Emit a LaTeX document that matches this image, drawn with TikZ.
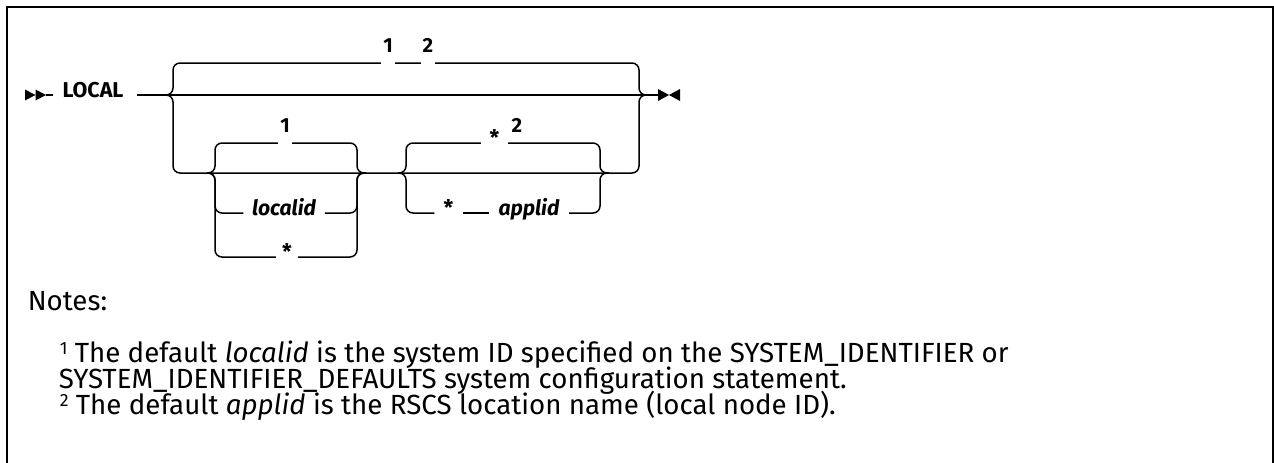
\documentclass[tikz,border=0pt]{standalone}
\usepackage{fontspec}
\setmainfont{Fira Sans}
\newlength\rrfitlen
\newcommand\rrfit[3]{%
  \settowidth\rrfitlen{\fontsize{10}{12}\selectfont #3}%
  \pgfmathsetmacro#1{10*#2/\rrfitlen}}
\newcommand\rrnotefont{\fontsize{\rrnsz}{\rrnsz}\selectfont}
\newcommand\rrkwfont{\fontsize{\rrksz}{\rrksz}\selectfont\bfseries}
\newcommand\rrvarfont{\fontsize{\rrvsz}{\rrvsz}\selectfont\bfseries\itshape}
\newcommand\rrsupfont{\fontsize{\rrssz}{\rrssz}\selectfont\bfseries}
\newcommand\rrnsup[1]{\raisebox{0.26em}{\fontsize{0.64\dimexpr\rrnsz pt\relax}{10pt}\selectfont #1}}
\begin{document}
\rrfit\rrnsz{788}{SYSTEM\_IDENTIFIER\_DEFAULTS system configuration statement.}%
\rrfit\rrksz{61}{\bfseries LOCAL}%
\rrfit\rrvsz{64}{\bfseries\itshape localid}%
\pgfmathsetmacro\rrssz{0.95*\rrksz}%
\begin{tikzpicture}[x=1pt,y=-1pt,line width=1.5pt,
  rail/.style={line width=1.5pt, rounded corners=7pt},
  frame/.style={line width=2.5pt},
  kw/.style={font=\rrkwfont, inner xsep=9pt, inner ysep=2pt, anchor=mid},
  var/.style={font=\rrvarfont, fill=white, inner ysep=2pt, anchor=mid},
  ast/.style={font=\rrkwfont, fill=white, inner ysep=2pt, anchor=mid},
  fn/.style={font=\rrsupfont, fill=white, inner xsep=2pt, inner ysep=12pt, anchor=south},
  note/.style={font=\rrnotefont, anchor=base west, inner sep=0pt}]
\useasboundingbox (0,0) rectangle (1274,463);
% frame
\draw[frame] (7,463) -- (7,7) -- (1273,7) -- (1273,463);
% start symbol
\fill (25,89.5) -- (25,100.5) -- (35.5,95) -- cycle;
\fill (35.5,89.5) -- (35.5,100.5) -- (46,95) -- cycle;
\coordinate (st) at (46,95);
\node[kw] (local) at (93,95) {LOCAL};
\coordinate (jin) at (165,95);
\coordinate (jout) at (648,95);
\coordinate (endtip) at (658,95);
\coordinate (g1in) at (207,173);
\coordinate (g1out) at (366,173);
\coordinate (g2in) at (398,173);
\coordinate (g2out) at (609,173);
% text nodes on rails
\node[var, inner xsep=8pt] (loc) at (284,213) {localid};
\node[ast, inner xsep=5.5pt] (s1) at (287,257) {*};
\node[ast, inner xsep=8pt] (s2) at (494.5,143) {*};
\node[ast, inner xsep=8.5pt] (s3) at (448.5,213) {*};
\node[var, inner xsep=9pt] (app) at (529,213) {applid};
% main line
\draw (st) -- (local.mid west);
\draw ([xshift=4pt]local.mid east) -- (endtip);
% outer choice
\draw[rail] (jin) -| (173,63) -| (639,95) -- (jout);
\draw[rail] (jin) -| (173,173) -| (639,95) -- (jout);
% group 1
\draw[rail] (g1in) -| (215,143) -| (357,173) -- (g1out);
\draw[rail] (g1in) -| (215,213) -- (loc.mid west);
\draw[rail] (loc.mid east) -| (357,173) -- (g1out);
\draw[rail] (g1in) -| (215,257) -- (s1.mid west);
\draw[rail] (s1.mid east) -| (357,173) -- (g1out);
% group 2
\draw[rail] (g2in) -| (406,143) -- (s2.mid west);
\draw[rail] (s2.mid east) -| (600,173) -- (g2out);
\draw[rail] (g2in) -| (406,213) -- (s3.mid west);
\draw (s3.mid east) -- (app.mid west);
\draw[rail] (app.mid east) -| (600,173) -- (g2out);
% end symbol
\fill (658,89) -- (658,101) -- (669,95) -- cycle;
\fill (680,89) -- (680,101) -- (669,95) -- cycle;
% footnote marks
\node[fn] (f1) at (388,65) {1};
\node[fn] (f2) at (428,65) {2};
\node[fn] (f3) at (285,145) {1};
\node[fn, fill=none] (f4) at (517,145) {2};
% notes
\node[note] (notes) at (27,310) {Notes:};
\node[note] (n1) at (59,362) {\rrnsup{1} The default \textit{localid} is the system ID specified on the SYSTEM\_IDENTIFIER or};
\node[note] (n2) at (58,388) {SYSTEM\_IDENTIFIER\_DEFAULTS system configuration statement.};
\node[note] (n3) at (59,414) {\rrnsup{2} The default \textit{applid} is the RSCS location name (local node ID).};
\end{tikzpicture}
\end{document}
